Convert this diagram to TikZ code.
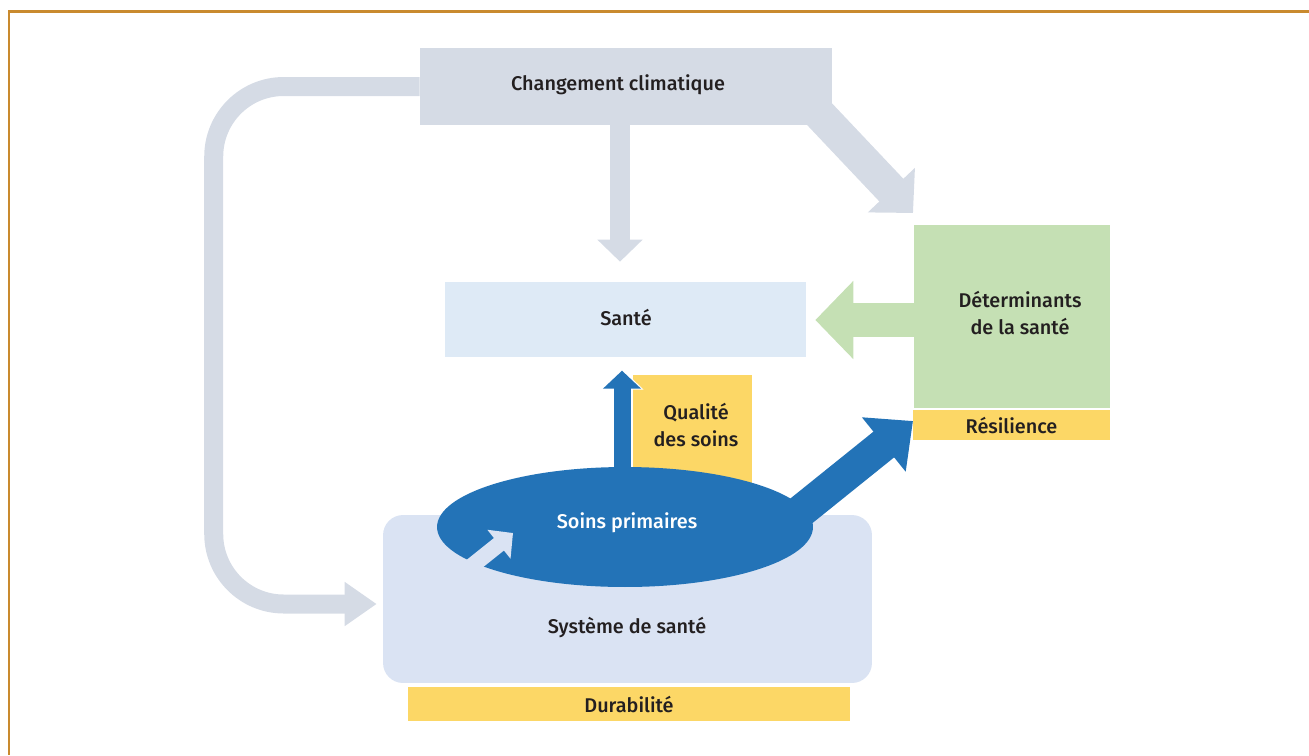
\documentclass[tikz,border=0pt]{standalone}
\usepackage{fontspec}
\setmainfont{Fira Sans}[BoldFont={Fira Sans Medium}]
\usetikzlibrary{arrows.meta,shapes.geometric}
\definecolor{greyblue}{HTML}{D5DBE5}
\definecolor{paleblue}{HTML}{DEEAF6}
\definecolor{sysblue}{HTML}{DAE3F3}
\definecolor{leafgreen}{HTML}{C5E0B4}
\definecolor{goldyellow}{HTML}{FCD766}
\definecolor{deepblue}{HTML}{2373B7}
\definecolor{framegold}{HTML}{C98A2E}
\definecolor{inkdark}{HTML}{231F20}
\tikzset{
  box/.style={inner sep=0pt,text=inkdark,align=center,font=\bfseries\fontsize{11.3}{15}\selectfont},
  greyarrow/.style={greyblue,line width=0.38cm},
}

\begin{document}
\begin{tikzpicture}[x=0.02cm,y=-0.02cm]
            \useasboundingbox (0,0) rectangle (1309,755);
            \draw[framegold,line width=0.06cm] (9,755)--(9,11)--(1309,11);
            \node (cc)[box,fill=greyblue,minimum width=8.24cm,minimum height=1.54cm] at (626,86.5){};
            \node (cctxt)[box] at (618,85){Changement climatique};
            \node (sante)[box,fill=paleblue,minimum width=7.22cm,minimum height=1.5cm] at (625.5,319.5){};
            \node (santetxt)[box] at (626,317){Santé};
            \node (det)[box,fill=leafgreen,minimum width=3.92cm,minimum height=3.66cm] at (1012,316.5){};
            \node (dettxt)[box] at (1020,313){Déterminants\\de la santé};
            \node (resil)[box,fill=goldyellow,minimum width=3.94cm,minimum height=0.6cm] at (1011.5,425){Résilience};
            \node (sys)[box,fill=sysblue,rounded corners=0.4cm,minimum width=9.78cm,minimum height=3.36cm] at (627.5,599){};
            \node (dur)[box,fill=goldyellow,minimum width=8.84cm,minimum height=0.68cm] at (629,704){Durabilité};
            \node (qual)[box,fill=goldyellow,minimum width=2.38cm,minimum height=2.3cm] at (692.5,432.5){};
            \node (qualtxt)[box] at (696,425){Qualité\\des soins};
            \node (systxt)[box] at (627,628){Système de santé};
            \node (soins)[ellipse,inner sep=0pt,minimum width=7.52cm,minimum height=2.4cm] at (625,527){};
            \coordinate (dettip) at (913,213);
            \coordinate (resiltip) at (913,421);
            \draw[greyarrow,rounded corners=1.4cm,-{Triangle[length=0.64cm,width=0.84cm]}] (cc.west)-|([xshift=-3.38cm,yshift=-0.1cm]sys.west)--([xshift=-0.12cm,yshift=-0.1cm]sys.west);
            \draw[greyarrow,line width=0.4cm,-{Triangle[length=0.44cm,width=0.88cm]},shorten >=0.4cm] ([xshift=-0.12cm]cc.south)--([xshift=-0.12cm]cc.south|-sante.north);
            \draw[greyarrow,line width=0.66cm,-{Triangle[length=0.63cm,width=1.26cm]}] ([shift={(-40,-40)}]cc.south east)--(dettip);
            \draw[leafgreen,line width=0.68cm,-{Triangle[length=0.76cm,width=1.52cm]},shorten >=0.18cm] ([yshift=-0.07cm]det.west)--([yshift=-0.07cm]det.west-|sante.east);
            \draw[white,line width=0.42cm,-{Triangle[length=0.42cm,width=0.84cm]}] ([xshift=-0.06cm]soins.north)--++(0,-98);
            \draw[deepblue,line width=0.34cm,-{Triangle[length=0.36cm,width=0.74cm]}] ([xshift=-0.06cm]soins.north)--++(0,-96);
            \draw[deepblue,line width=0.66cm,-{Triangle[length=0.75cm,width=1.35cm]}] ([shift={(-42,8)}]soins.east)--(resiltip);
            \fill[deepblue] (soins.center) ellipse [x radius=3.76cm,y radius=1.2cm];
            \draw[sysblue,line width=0.32cm,-{Triangle[length=0.36cm,width=0.72cm]}] (468,569)--(513,533);
            \node (soinstxt)[box,text=white] at (627,523){Soins primaires};
\end{tikzpicture}
\end{document}
